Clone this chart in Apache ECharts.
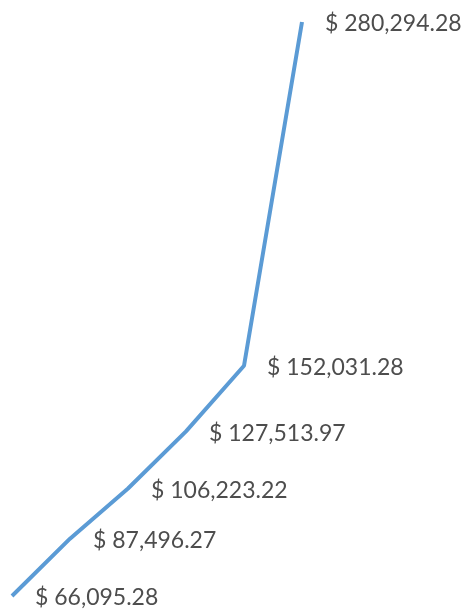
<!DOCTYPE html>
<html lang="en">
<head>
  <meta charset="UTF-8">
  <title>Growth</title>
  <script src="https://cdn.jsdelivr.net/npm/echarts@6/dist/echarts.min.js"></script>
  <style>
    html, body { margin: 0; padding: 0; background: #ffffff; }
    #chart { width: 467px; height: 615px; }
  </style>
</head>
<body>
  <div id="chart"></div>
  <script>
    const categories = ['1', '2', '3', '4', '5', '6'];
    const values = [66095.28, 87496.27, 106223.22, 127513.97, 152031.28, 280294.28];

    function money(v) {
      return '$ ' + v.toLocaleString('en-US', { minimumFractionDigits: 2, maximumFractionDigits: 2 });
    }

    const chart = echarts.init(document.getElementById('chart'));
    chart.setOption({
      animation: false,
      grid: { left: 12, right: 165, top: 22, bottom: 19 },
      xAxis: {
        type: 'category',
        data: categories,
        boundaryGap: false,
        show: false
      },
      yAxis: {
        type: 'value',
        min: 66095.28,
        max: 280294.28,
        show: false
      },
      series: [{
        type: 'line',
        data: values,
        symbol: 'circle',
        symbolSize: 2,
        showSymbol: true,
        itemStyle: { color: 'rgba(91,155,213,0)' },
        lineStyle: { color: '#5b9bd5', width: 4 },
        label: {
          show: true,
          position: 'right',
          distance: 22,
          offset: [0, 2],
          color: '#4d4d4d',
          fontFamily: 'Lato',
          fontSize: 23,
          formatter: function (p) { return money(p.value); }
        }
      }]
    });
  </script>
</body>
</html>
